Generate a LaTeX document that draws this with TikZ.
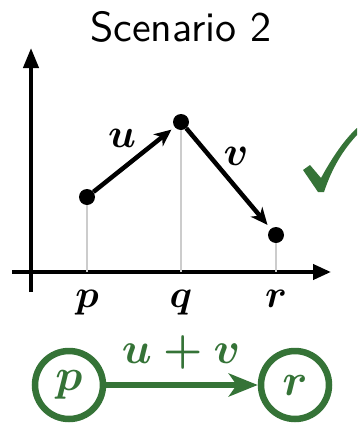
\documentclass[tikz,border=0pt]{standalone}
\usepackage{graphicx}
\usetikzlibrary{arrows.meta}
\definecolor{okgreen}{RGB}{53,115,55}
\newcommand{\mlab}[2][3.9]{\scalebox{#1}{\boldmath$#2$}}
\begin{document}
\begin{tikzpicture}[x=1pt,y=-1pt,
  xaxis/.style={line width=4pt,-{Triangle[length=18pt,width=15pt]}},
  yaxis/.style={line width=4pt,-{Triangle[length=20pt,width=15pt]}},
  dot/.style={circle,fill=black,inner sep=0pt,minimum size=16pt},
  drop/.style={line width=1.5pt,black!20},
  vec/.style={line width=4.5pt,-{Stealth[length=17pt,width=15pt,inset=5pt]}},
  lab/.style={inner sep=0pt},
  gcirc/.style={circle,draw=okgreen,line width=6.5pt,minimum size=68pt,inner sep=0pt,text=okgreen},
  garrow/.style={draw=okgreen,line width=6pt,-{Stealth[length=29pt,width=23pt,inset=8pt]}}]
\useasboundingbox (0,0) rectangle (357,426);
\node[lab] (title) at (181,27) {\scalebox{4.2}{\sffamily Scenario 2}};
% axes
\coordinate (ybot) at (31,292);
\coordinate (ytop) at (31,48);
\coordinate (xl) at (12,272);
\coordinate (xr) at (331,272);
\draw[yaxis] (ybot) -- (ytop);
\draw[xaxis] (xl) -- (xr);
% feet
\coordinate (pf) at (87,272);
\coordinate (qf) at (181,272);
\coordinate (rf) at (276,272);
% dots
\node[dot] (p) at (87,197) {};
\node[dot] (q) at (181,122) {};
\node[dot] (r) at (276,235) {};
\draw[drop] (p) -- (pf);
\draw[drop] (q) -- (qf);
\draw[drop] (r) -- (rf);
\draw[vec,shorten >=4pt] (p) -- (q);
\draw[vec,shorten >=5pt] (q) -- (r);
\node[lab,anchor=base] (ulab) at (122,147) {\mlab[4.1]{u}};
\node[lab,anchor=base] (vlab) at (236,165) {\mlab[4.1]{v}};
\node[lab,anchor=base] (plab) at (87,307) {\mlab{p}};
\node[lab,anchor=base] (qlab) at (181,307) {\mlab{q}};
\node[lab,anchor=base] (rlab) at (276,307) {\mlab{r}};
% check mark
\fill[okgreen] (303,170) -- (310,165) -- (321,178)
  .. controls (333,156) and (345,139) .. (357,128) -- (357,135)
  .. controls (343,150) and (332,168) .. (324,192) -- (318,192) -- cycle;
% bottom graph
\node[gcirc] (P) at (69,385) {\mlab[4.5]{p}};
\node[gcirc] (R) at (295,385) {\mlab[4.5]{r}};
\draw[garrow] (P) -- (R);
\node[lab,anchor=base,text=okgreen] (sum) at (181,363) {\mlab[4.4]{u+v}};
\end{tikzpicture}
\end{document}
